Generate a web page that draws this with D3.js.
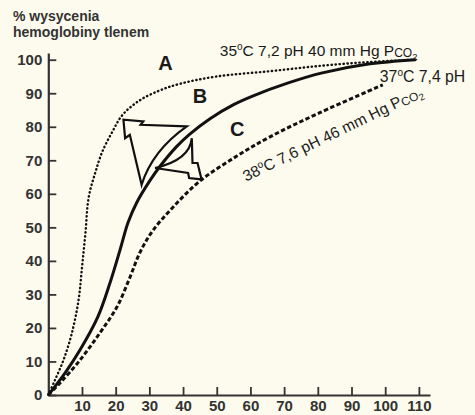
<!DOCTYPE html>
<html>
<head>
<meta charset="utf-8">
<script src="https://cdn.jsdelivr.net/npm/d3@7"></script>
<style>
  body { margin: 0; background: #fdfbee; }
  svg { display: block; }
  text { font-family: "Liberation Sans", Arial, sans-serif; fill: #1a1a1a; }
</style>
</head>
<body>
<svg id="chart"></svg>
<script>
// values: pO2 (mm Hg) -> % saturation
const curveA_pO2 = [0, 2, 4.5, 7, 9, 10, 11, 12, 14, 16, 19, 22, 27, 33, 39, 50, 66, 81, 95, 109];
const curveA_sat = [0, 4.5, 10.4, 18.5, 28.4, 38, 48, 59, 66.5, 72.5, 78.5, 83.5, 87.8, 90.8, 92.8, 95, 96.6, 98.2, 99.3, 100];

const curveB_pO2 = [0, 5, 9.4, 14.7, 18.3, 21.3, 23.7, 26.3, 30.2, 33, 38, 42, 48, 55, 61, 71, 81, 95, 109];
const curveB_sat = [0, 6.6, 13.4, 23.3, 33.4, 43.3, 51.5, 57.5, 64, 68, 74, 77.8, 82.4, 86.6, 89.3, 93, 96, 98.7, 100];

const curveC_pO2 = [0, 3.5, 9.4, 15.3, 20.4, 24.2, 27.2, 31, 37, 45, 56, 65.8, 80.6, 99.3];
const curveC_sat = [0, 3.6, 10.4, 18.5, 26.3, 35, 42.5, 49, 56, 63.8, 71.3, 77, 84.2, 92.5];

const xTicks = [10, 20, 30, 40, 50, 60, 70, 80, 90, 100, 110];
const yTicks = [0, 10, 20, 30, 40, 50, 60, 70, 80, 90, 100];

const yTitle = ['% wysycenia', 'hemoglobiny tlenem'];
const curveNames = ['A', 'B', 'C'];

// hollow shift arrows, outline in data units (last point joins the first with a curve)
const arrowLeft = [[41.1, 80.1], [27.4, 80.6], [28.2, 81.6], [22.3, 82.1], [22.8, 76.6], [24.2, 77.6], [27.7, 62.7]];
const arrowLeftBend = [30.9, 72.9];
const arrowRight = [[31.7, 67.7], [41.5, 66.2], [41.8, 64.7], [45.5, 64.3], [44.3, 69.2], [42.8, 69.2], [42.6, 76.6]];
const arrowRightBend = [42.0, 70.1];

class DissociationChart {

  constructor(_config) {
    this.config = {
      parentElement: _config.parentElement,
      containerWidth: _config.containerWidth || 475,
      containerHeight: _config.containerHeight || 415
    }
    this.initVis();
  }

  initVis() {
    let vis = this;

    vis.svg = d3.select(vis.config.parentElement)
      .attr('width', vis.config.containerWidth)
      .attr('height', vis.config.containerHeight);

    vis.svg.append('rect')
      .attr('width', vis.config.containerWidth)
      .attr('height', vis.config.containerHeight)
      .attr('fill', '#fdfbee');

    // axis lines run a little past the last tick
    vis.xScale = d3.scaleLinear().domain([0, 113.3]).range([48.3, 430]);
    vis.yScale = d3.scaleLinear().domain([0, 102]).range([395, 53]);

    // ---- AXES ----
    vis.xAxis = d3.axisBottom(vis.xScale)
      .tickValues(xTicks)
      .tickSize(-8)
      .tickSizeOuter(0)
      .tickPadding(5);

    vis.yAxis = d3.axisLeft(vis.yScale)
      .tickValues(yTicks)
      .tickSize(-8)
      .tickSizeOuter(0)
      .tickPadding(6);

    vis.xAxisGroup = vis.svg.append('g')
      .attr('class', 'axis x-axis')
      .attr('transform', `translate(0, ${vis.yScale(0)})`)
      .call(vis.xAxis);

    vis.yAxisGroup = vis.svg.append('g')
      .attr('class', 'axis y-axis')
      .attr('transform', `translate(${vis.xScale(0)}, 0)`)
      .call(vis.yAxis);

    vis.svg.selectAll('.axis')
      .attr('font-family', '"Liberation Sans", Arial, sans-serif')
      .attr('font-size', 15)
      .attr('font-weight', 'bold')
      .attr('color', '#333');
    vis.svg.selectAll('.axis .domain').attr('stroke-width', 2.2);
    vis.svg.selectAll('.axis .tick line').attr('stroke-width', 1.8);
    vis.svg.selectAll('.axis text').style('fill', '#333');

    // axis title, top left
    vis.svg.append('text')
      .attr('x', 13)
      .attr('y', 21)
      .attr('font-size', 14)
      .attr('font-weight', 'bold')
      .style('fill', '#333')
      .selectAll('tspan')
      .data(yTitle)
      .join('tspan')
        .attr('x', 13)
        .attr('dy', (d, i) => i === 0 ? 0 : 16)
        .text(d => d);

    vis.updateVis();
  }

  updateVis() {
    let vis = this;

    const line = d3.line()
      .x(d => vis.xScale(d[0]))
      .y(d => vis.yScale(d[1]))
      .curve(d3.curveCatmullRom.alpha(0.5));

    const curves = [
      { pO2: curveA_pO2, sat: curveA_sat, width: 2.4, dash: '0.4,3.6', cap: 'round' },
      { pO2: curveB_pO2, sat: curveB_sat, width: 3, dash: null, cap: 'butt' },
      { pO2: curveC_pO2, sat: curveC_sat, width: 3, dash: '4.4,2.4', cap: 'butt' }
    ];

    vis.svg.selectAll('.curve')
      .data(curves)
      .join('path')
      .attr('class', 'curve')
      .attr('d', c => line(c.pO2.map((p, i) => [p, c.sat[i]])))
      .attr('fill', 'none')
      .attr('stroke', '#111')
      .attr('stroke-width', c => c.width)
      .attr('stroke-linecap', c => c.cap)
      .attr('stroke-dasharray', c => c.dash);

    // ---- SHIFT ARROWS ----
    const arrowPath = (pts, bend) => {
      const p = d3.path();
      pts.forEach((d, i) => {
        if (i === 0) p.moveTo(vis.xScale(d[0]), vis.yScale(d[1]));
        else p.lineTo(vis.xScale(d[0]), vis.yScale(d[1]));
      });
      p.quadraticCurveTo(vis.xScale(bend[0]), vis.yScale(bend[1]),
        vis.xScale(pts[0][0]), vis.yScale(pts[0][1]));
      p.closePath();
      return p.toString();
    };

    vis.svg.selectAll('.shift-arrow')
      .data([[arrowLeft, arrowLeftBend], [arrowRight, arrowRightBend]])
      .join('path')
      .attr('class', 'shift-arrow')
      .attr('d', d => arrowPath(d[0], d[1]))
      .attr('fill', 'none')
      .attr('stroke', '#111')
      .attr('stroke-width', 2.2)
      .attr('stroke-linejoin', 'miter');

    // ---- CURVE LETTERS ----
    const letterPos = [[32.6, 97], [42.9, 87.2], [53.9, 77.3]];
    vis.svg.selectAll('.curve-name')
      .data(curveNames)
      .join('text')
      .attr('class', 'curve-name')
      .attr('x', (d, i) => vis.xScale(letterPos[i][0]))
      .attr('y', (d, i) => vis.yScale(letterPos[i][1]))
      .attr('font-size', 20)
      .attr('font-weight', 'bold')
      .text(d => d);

    // ---- CONDITION LABELS ----
    const labels = [
      { at: [50.9, 101.2], rot: 0,
        parts: [['35', 15.5, 0], ['o', 10, -6], ['C 7,2 pH 40 mm Hg P', 15.5, 6], ['CO', 12, 1.5], ['2', 9.5, 2.5]] },
      { at: [98.4, 93.4], rot: 0,
        parts: [['37', 15.8, 0], ['o', 10, -6], ['C 7,4 pH', 15.8, 6]] },
      { at: [58.7, 63.6], rot: -26,
        parts: [['38', 15.5, 0], ['o', 10, -6], ['C 7,6 pH 46 mm Hg P', 15.5, 6], ['CO', 12, 1.5], ['2', 9.5, 2.5]] }
    ];

    vis.svg.selectAll('.cond-label')
      .data(labels)
      .join('text')
      .attr('class', 'cond-label')
      .attr('transform', d => {
        const x = vis.xScale(d.at[0]);
        const y = vis.yScale(d.at[1]);
        return `translate(${x}, ${y}) rotate(${d.rot})`;
      })
      .selectAll('tspan')
      .data(d => d.parts)
      .join('tspan')
        .attr('font-size', p => p[1])
        .attr('dy', p => p[2])
        .text(p => p[0]);
  }
}

new DissociationChart({ parentElement: '#chart' });
</script>
</body>
</html>
